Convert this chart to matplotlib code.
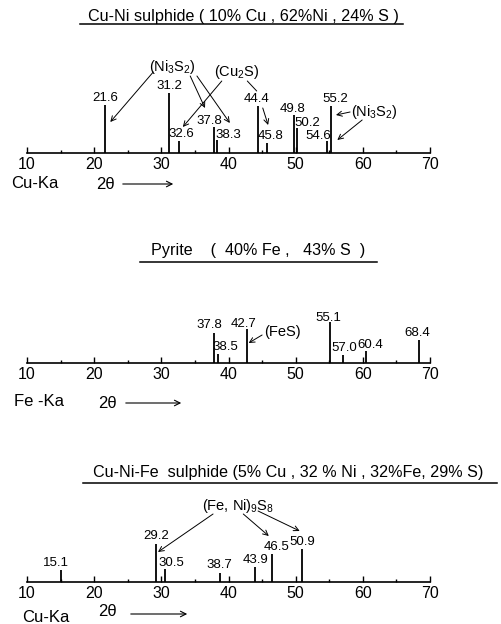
import matplotlib
matplotlib.use('Agg')
import matplotlib.pyplot as plt
from matplotlib.lines import Line2D

plt.rcParams['font.family'] = ['Liberation Sans', 'DejaVu Sans']
plt.rcParams['mathtext.fontset'] = 'custom'
plt.rcParams['mathtext.rm'] = 'Liberation Sans'
plt.rcParams['mathtext.it'] = 'Liberation Sans'

# data: peak positions (2 theta) and relative heights
cuni_pos = [21.6, 31.2, 32.6, 37.8, 38.3, 44.4, 45.8, 49.8, 50.2, 54.6, 55.2]
cuni_int = [48, 60, 12, 26, 13, 47, 10, 38, 25, 12, 47]
cuni_lab = ['21.6', '31.2', '32.6', '37.8', '38.3', '44.4', '45.8', '49.8', '50.2', '54.6', '55.2']

pyr_pos = [37.8, 38.5, 42.7, 55.1, 57.0, 60.4, 68.4]
pyr_int = [30, 9, 34, 41, 8, 12, 23]
pyr_lab = ['37.8', '38.5', '42.7', '55.1', '57.0', '60.4', '68.4']

cnf_pos = [15.1, 29.2, 30.5, 38.7, 43.9, 46.5, 50.9]
cnf_int = [12, 38, 13, 9, 15, 28, 33]
cnf_lab = ['15.1', '29.2', '30.5', '38.7', '43.9', '46.5', '50.9']

titles = ['Cu-Ni sulphide ( 10% Cu , 62%Ni , 24% S )',
          'Pyrite    (  40% Fe ,   43% S  )',
          'Cu-Ni-Fe  sulphide (5% Cu , 32 % Ni , 32%Fe, 29% S)']
radiations = ['Cu-Ka', 'Fe -Ka', 'Cu-Ka']

# label offsets (dx in 2theta, dy in px above top of line)
cuni_dx = [0.1, 0, 0.4, -0.6, 1.6, -0.2, 0.4, -0.2, 1.6, -1.2, 0.7]
cuni_dy = [7, 7, 7, 6, 5, 7, 7, 6, 5, 5, 7]
pyr_dx = [-0.7, 1.1, -0.4, -0.3, 0.2, 0.7, -0.3]
pyr_dy = [8, 7, 5, 4, 7, 6, 7]
cnf_dx = [-0.8, 0, 1.0, 0, 0.2, 0.6, 0.1]
cnf_dy = [7, 8, 6, 8, 7, 7, 7]

W, H = 502, 624
fig = plt.figure(figsize=(W / 100, H / 100), dpi=100)
fig.patch.set_facecolor('white')

k = 403 / 60.0           # px per degree
x0 = 10 - 27 / k         # 2theta at left edge
LAB = 9.5                # peak label size


def fx(px):
    return px / W


def fy(py):
    return 1 - py / H


def panel(axis_py, height, pos, inten, labs, dx, dy):
    ax = fig.add_axes([0, fy(axis_py), 1, height / H])
    ax.set_xlim(x0, x0 + W / k)
    ax.set_ylim(0, height)
    ax.patch.set_alpha(0)
    for s in ['top', 'left', 'right']:
        ax.spines[s].set_visible(False)
    ax.spines['bottom'].set_bounds(10, 70)
    ax.spines['bottom'].set_linewidth(1.2)
    ax.set_yticks([])
    ax.set_xticks(range(10, 71, 10))
    ax.set_xticks(range(15, 70, 10), minor=True)
    ax.tick_params(axis='x', which='major', direction='in', length=4, width=1, pad=3, labelsize=11.5)
    ax.tick_params(axis='x', which='minor', direction='in', length=2, width=1)
    ax.vlines(pos, 0, inten, color='black', lw=1.3)
    for p, h, t, a, b in zip(pos, inten, labs, dx, dy):
        ax.text(p + a, h + b, t, ha='center', va='center', fontsize=LAB)
    return ax


def arrow(ax, start, end, head=True):
    ax.annotate('', xy=end, xytext=start,
                arrowprops=dict(arrowstyle='->' if head else '-', lw=0.7, color='black',
                                shrinkA=0, shrinkB=0, mutation_scale=9))


def header(title, size, cx, ty, ux0, ux1, uy, rad, rx, ry, tx, tyy, ax0, ax1, ay):
    fig.text(fx(cx), fy(ty), title, ha='center', va='center', fontsize=size)
    fig.add_artist(Line2D([fx(ux0), fx(ux1)], [fy(uy), fy(uy)], color='black', lw=1.1))
    fig.text(fx(rx), fy(ry), rad, ha='left', va='center', fontsize=12)
    fig.text(fx(tx), fy(tyy), '2θ', ha='center', va='center', fontsize=12)
    fig.add_artist(matplotlib.patches.FancyArrowPatch(
        (fx(ax0), fy(ay)), (fx(ax1), fy(ay)), transform=fig.transFigure,
        arrowstyle='->', lw=0.8, color='black', mutation_scale=10))


# panel 1 : Cu-Ni sulphide
ax1 = panel(153, 110, cuni_pos, cuni_int, cuni_lab, cuni_dx, cuni_dy)
header(titles[0], 11.6, 243, 17, 80, 403, 24, radiations[0], 11, 183, 105, 184, 120, 176, 184)
ax1.text(31.6, 86, r'(Ni$_3$S$_2$)', ha='center', va='center', fontsize=10.5)
arrow(ax1, (28.8, 81), (22.4, 31))
arrow(ax1, (34.3, 77), (36.5, 45))
arrow(ax1, (35.3, 77), (40.2, 30))
ax1.text(41.3, 81, r'(Cu$_2$S)', ha='center', va='center', fontsize=10.5)
arrow(ax1, (39.0, 72), (33.2, 26))
arrow(ax1, (42.8, 72), (44.2, 62), head=False)
arrow(ax1, (45.1, 45), (45.9, 28))
ax1.text(61.8, 41, r'(Ni$_3$S$_2$)', ha='center', va='center', fontsize=10.5)
arrow(ax1, (58.1, 41), (56.0, 38))
arrow(ax1, (59.9, 33), (56.2, 13))

# panel 2 : Pyrite
ax2 = panel(363, 80, pyr_pos, pyr_int, pyr_lab, pyr_dx, pyr_dy)
header(titles[1], 11.6, 258, 250, 140, 377, 262, radiations[1], 14, 401, 107, 404, 123, 184, 403)
ax2.text(48.0, 31, '(FeS)', ha='center', va='center', fontsize=10.5)
arrow(ax2, (45.0, 28), (43.0, 20))

# panel 3 : Cu-Ni-Fe sulphide
ax3 = panel(582, 90, cnf_pos, cnf_int, cnf_lab, cnf_dx, cnf_dy)
header(titles[2], 11.6, 288, 472, 83, 497, 483, radiations[2], 22, 618, 107, 612, 128, 190, 614)
ax3.text(41.4, 76, r'(Fe, Ni)$_9$S$_8$', ha='center', va='center', fontsize=10.5)
arrow(ax3, (37.7, 68), (29.5, 30))
arrow(ax3, (42.2, 68), (46.0, 46))
arrow(ax3, (44.4, 71), (50.6, 51))

fig.savefig('out.png', dpi=100, facecolor='white')
